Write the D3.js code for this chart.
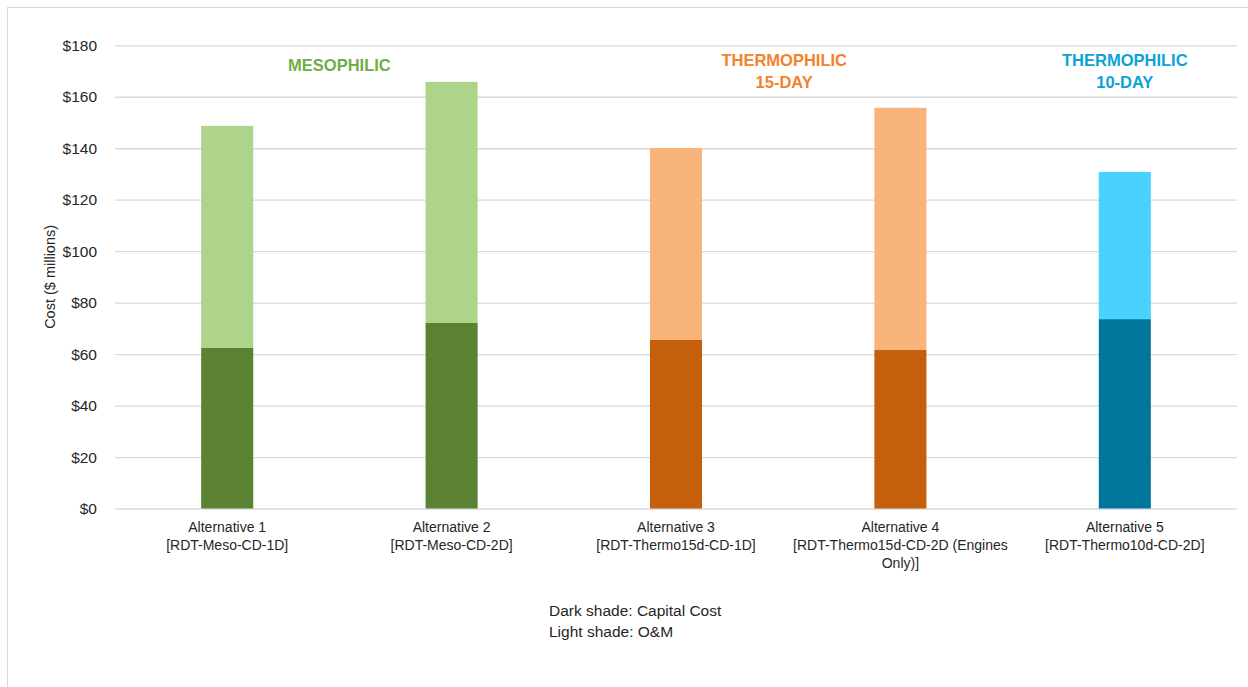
<!DOCTYPE html>
<html>
<head>
<meta charset="utf-8">
<script src="https://cdn.jsdelivr.net/npm/d3@7/dist/d3.min.js"></script>
<style>
  html, body { margin: 0; padding: 0; background: #fff; }
  svg { display: block; font-family: "Liberation Sans", Arial, sans-serif; }
</style>
</head>
<body>
<svg id="chart" width="1248" height="687"></svg>
<script>
// Alternatives and their cost split ($ millions)
const categories = ["Alternative 1", "Alternative 2", "Alternative 3", "Alternative 4", "Alternative 5"];
const categoryLabels = [
  ["Alternative 1", "[RDT-Meso-CD-1D]"],
  ["Alternative 2", "[RDT-Meso-CD-2D]"],
  ["Alternative 3", "[RDT-Thermo15d-CD-1D]"],
  ["Alternative 4", "[RDT-Thermo15d-CD-2D (Engines", "Only)]"],
  ["Alternative 5", "[RDT-Thermo10d-CD-2D]"]
];
const capitalCost = [62.4, 72.1, 65.5, 61.6, 73.6];
const omCost = [86.3, 93.7, 74.6, 94.1, 57.2];

// Process groups shown above the bars
const groupNames = [["MESOPHILIC"], ["THERMOPHILIC", "15-DAY"], ["THERMOPHILIC", "10-DAY"]];
const groupMembers = [[0, 1], [2, 3], [4]];
const groupColors = ["#70AD47", "#F4812B", "#0BA3D6"];

// Dark / light shade per alternative
const darkColors = ["#5A8232", "#5A8232", "#C55F0B", "#C55F0B", "#00769C"];
const lightColors = ["#AED38A", "#AED38A", "#F8B47B", "#F8B47B", "#4AD2FF"];

const yTicks = [0, 20, 40, 60, 80, 100, 120, 140, 160, 180];
const legendLines = ["Dark shade: Capital Cost", "Light shade: O&M"];

const svg = d3.select("#chart");
const margin = { left: 115, right: 11, top: 45.3, bottom: 178.5 };
const W = 1248, H = 687;

// chart frame
svg.append("rect")
  .attr("x", 7.5).attr("y", 7.5)
  .attr("width", 1250).attr("height", 700)
  .attr("fill", "#fff").attr("stroke", "#d9d9d9").attr("stroke-width", 1);

const x = d3.scaleBand()
  .domain(categories)
  .range([margin.left, W - margin.right])
  .paddingInner(0.768).paddingOuter(0.384);

const y = d3.scaleLinear()
  .domain([0, 180])
  .range([H - margin.bottom, margin.top]);

// gridlines + tick labels
const yAxis = d3.axisLeft(y)
  .tickValues(yTicks)
  .tickSize(-(W - margin.right - margin.left))
  .tickPadding(18)
  .tickFormat(d => "$" + d);

const gy = svg.append("g")
  .attr("transform", `translate(${margin.left},0)`)
  .call(yAxis);
gy.select(".domain").remove();
gy.selectAll(".tick line").attr("stroke", "#d9d9d9").attr("stroke-width", 1.3);
gy.selectAll(".tick text")
  .attr("fill", "#262626")
  .attr("font-size", 15.5);

// y-axis title
svg.append("text")
  .attr("transform", `translate(55,${(y(0) + y(180)) / 2}) rotate(-90)`)
  .attr("text-anchor", "middle")
  .attr("font-size", 14.5)
  .attr("fill", "#262626")
  .text("Cost ($ millions)");

// stacked bars
const bars = svg.append("g");
categories.forEach((c, i) => {
  bars.append("rect")
    .attr("x", x(c)).attr("width", x.bandwidth())
    .attr("y", y(capitalCost[i]))
    .attr("height", y(0) - y(capitalCost[i]))
    .attr("fill", darkColors[i]);
  bars.append("rect")
    .attr("x", x(c)).attr("width", x.bandwidth())
    .attr("y", y(capitalCost[i] + omCost[i]))
    .attr("height", y(capitalCost[i]) - y(capitalCost[i] + omCost[i]))
    .attr("fill", lightColors[i]);
});

// category labels
categories.forEach((c, i) => {
  const t = svg.append("text")
    .attr("x", x(c) + x.bandwidth() / 2)
    .attr("y", y(0) + 23)
    .attr("text-anchor", "middle")
    .attr("font-size", 14)
    .attr("fill", "#262626");
  categoryLabels[i].forEach((line, k) => {
    t.append("tspan")
      .attr("x", x(c) + x.bandwidth() / 2)
      .attr("dy", k === 0 ? 0 : 18)
      .text(line);
  });
});

// group headings
groupNames.forEach((lines, g) => {
  const centers = groupMembers[g].map(i => x(categories[i]) + x.bandwidth() / 2);
  const cx = d3.mean(centers) - (groupMembers[g].length > 1 && g > 0 ? 4 : 0);
  const t = svg.append("text")
    .attr("x", cx)
    .attr("y", lines.length === 1 ? 71 : 66)
    .attr("text-anchor", "middle")
    .attr("font-size", 16.5)
    .attr("font-weight", "bold")
    .attr("fill", groupColors[g]);
  lines.forEach((line, k) => {
    t.append("tspan").attr("x", cx).attr("dy", k === 0 ? 0 : 22).text(line);
  });
});

// shade legend
const lg = svg.append("text")
  .attr("x", 549).attr("y", 616)
  .attr("font-size", 15.5)
  .attr("fill", "#262626");
legendLines.forEach((line, k) => {
  lg.append("tspan").attr("x", 549).attr("dy", k === 0 ? 0 : 21).text(line);
});
</script>
</body>
</html>
